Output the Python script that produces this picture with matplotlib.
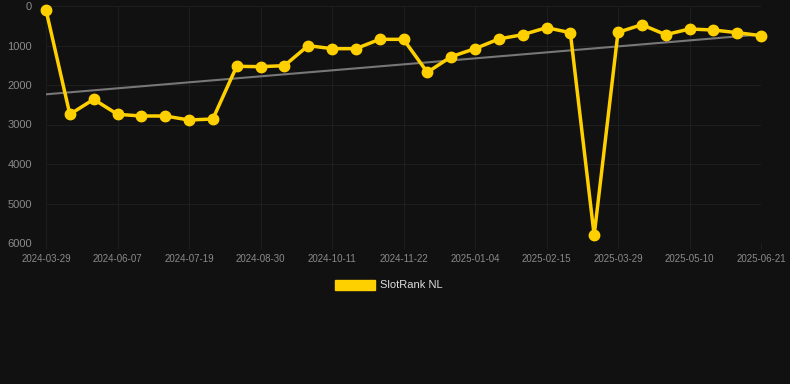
import matplotlib
matplotlib.use("Agg")
import matplotlib.pyplot as plt
from matplotlib.patches import Patch
import numpy as np

plt.rcParams['font.family'] = ['Liberation Sans', 'DejaVu Sans']

ranks = [100, 2742, 2363, 2742, 2785, 2785, 2886, 2861, 1527, 1536, 1511,
         1004, 1080, 1080, 844, 844, 1679, 1283, 1080, 835, 726, 549, 675,
         5806, 667, 473, 726, 582, 608, 675, 751]
tick_labels = ["2024-03-29", "2024-06-07", "2024-07-19", "2024-08-30",
               "2024-10-11", "2024-11-22", "2025-01-04", "2025-02-15",
               "2025-03-29", "2025-05-10", "2025-06-21"]
series_name = "SlotRank NL"

bg = "#111111"
gold = "#FFD000"
grid_c = "#1e1e1e"
txt_c = "#8a8a8a"

fig = plt.figure(figsize=(7.9, 3.84), dpi=100, facecolor=bg)
ax = fig.add_axes([46/790, 1-243/384, 715/790, 237/384], facecolor=bg)

x = np.arange(len(ranks))
y = np.array(ranks, dtype=float)

# trend line
coef = np.polyfit(x, y, 1)
ax.plot(x, np.polyval(coef, x), color="#777777", lw=1.5, zorder=2)

ax.plot(x, y, color=gold, lw=2.5, marker='o', ms=7.5, zorder=3, clip_on=False)

ax.set_xlim(0, len(ranks) - 1)
ax.set_ylim(6000, 0)
ax.set_yticks(range(0, 6001, 1000))
ax.set_yticklabels([str(v) for v in range(0, 6001, 1000)])
tick_pos = x[::3]
ax.set_xticks(tick_pos)
ax.set_xticklabels(tick_labels)

for s in ax.spines.values():
    s.set_visible(False)
ax.grid(True, color=grid_c, lw=0.8)
ax.set_axisbelow(True)
ax.tick_params(axis='y', length=0, pad=10, colors=txt_c, labelsize=8)
ax.tick_params(axis='x', length=4, width=0.8, color=grid_c, pad=4,
               colors=txt_c, labelsize=7)

leg = fig.legend(handles=[Patch(facecolor=gold, edgecolor=gold, label=series_name)],
                 loc='center', bbox_to_anchor=(389/790, 1-285/384),
                 frameon=False, fontsize=8, handlelength=3.6, handleheight=1.0,
                 handletextpad=0.5, labelcolor="#dddddd")

fig.savefig("out.png", dpi=100, facecolor=bg)
